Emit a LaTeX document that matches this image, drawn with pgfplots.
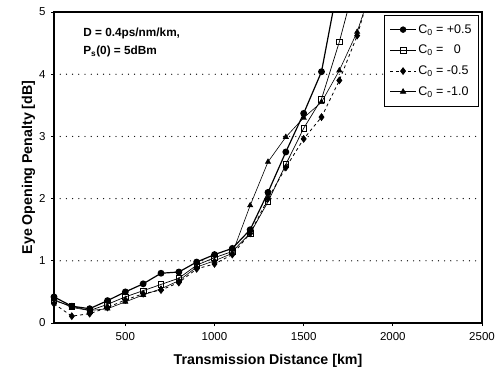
\documentclass[border=0pt]{standalone}
\usepackage{pgfplots}
\pgfplotsset{compat=1.18}
\usepackage{fontspec}
\setmainfont{Liberation Sans}
\begin{document}
\begin{tikzpicture}[x=1pt,y=1pt]
\useasboundingbox (0,0) rectangle (498,376);
\begin{axis}[
  at={(54pt,53pt)}, anchor=south west,
  scale only axis, width=428pt, height=311pt,
  xmin=100, xmax=2500, ymin=0, ymax=5,
  xtick={500,1000,1500,2000,2500},
  ytick={0,1,2,3,4,5},
  tick align=outside, tick pos=left,
  major tick length=3pt,
  axis line style={line width=1.6pt},
  tick style={black, line width=0.8pt},
  ymajorgrids, 
  grid style={black, line width=1.3pt, line cap=round, dash pattern=on 0pt off 6.2pt},
  ticklabel style={font=\fontsize{11.5}{12}\selectfont},
  /pgf/number format/assume math mode=true,
  /pgf/number format/1000 sep={},
  xticklabel style={yshift=-3pt},
  yticklabel style={xshift=-2pt},
  xlabel={\bfseries Transmission Distance [km]},
  ylabel={\bfseries Eye Opening Penalty [dB]},
  label style={font=\fontsize{14.2}{15}\selectfont},
  xlabel style={yshift=-7pt},
  ylabel style={yshift=-3pt},
  legend style={at={(0.993,0.99)}, anchor=north east, draw=black, line width=0.8pt,
    font=\fontsize{12.5}{14}\selectfont, row sep=6.5pt, inner xsep=5pt, inner ysep=7pt},
  legend cell align=left,
  legend image code/.code={\draw[mark repeat=2,mark phase=2,#1] plot coordinates {(0cm,0cm) (0.45cm,0cm) (0.9cm,0cm)};},
  legend image post style={line width=0.8pt},
  clip=true,
]
\addplot[black, line width=1.2pt, mark=*, mark size=2.8pt] coordinates {
(100,0.42) (200,0.27) (300,0.23) (400,0.36) (500,0.50) (600,0.63) (700,0.80) (800,0.82)
(900,0.98) (1000,1.10) (1100,1.20) (1200,1.50) (1300,2.10) (1400,2.75) (1500,3.37)
(1600,4.04) (1700,5.55)};
\addlegendentry{C\textsubscript{0} = +0.5}
\addplot[black, line width=0.7pt, mark=square, mark size=2.8pt, mark options={fill=white, line width=0.7pt}] coordinates {
(100,0.36) (200,0.27) (300,0.20) (400,0.30) (500,0.42) (600,0.52) (700,0.62) (800,0.72)
(900,0.93) (1000,1.05) (1100,1.15) (1200,1.44) (1300,1.95) (1400,2.55) (1500,3.13)
(1600,3.60) (1700,4.52) (1800,5.60)};
\addlegendentry{C\textsubscript{0} = \ \ 0}
\addplot[black, line width=0.8pt, dashed, mark=diamond*, mark size=3.3pt, mark options={solid}] coordinates {
(100,0.31) (200,0.11) (300,0.15) (400,0.25) (500,0.37) (600,0.47) (700,0.53) (800,0.65)
(900,0.87) (1000,0.95) (1100,1.10) (1200,1.44) (1300,2.00) (1400,2.50) (1500,2.96)
(1600,3.31) (1700,3.90) (1800,4.62) (1900,5.60)};
\addlegendentry{C\textsubscript{0} = -0.5}
\addplot[black, line width=0.6pt, mark=triangle*, mark size=3pt, mark options={solid}] coordinates {
(100,0.38) (200,0.25) (300,0.20) (400,0.23) (500,0.34) (600,0.45) (700,0.55) (800,0.68)
(900,0.90) (1000,1.00) (1100,1.12) (1200,1.89) (1300,2.59) (1400,2.99) (1500,3.30)
(1600,3.55) (1700,4.06) (1800,4.68) (1900,5.55)};
\addlegendentry{C\textsubscript{0} = -1.0}
\node[anchor=west, align=left, font=\bfseries\fontsize{11.8}{18}\selectfont, inner sep=0pt]
  at (rel axis cs:0.068,0.902) {D = 0.4ps/nm/km,\\P\textsubscript{s}(0) = 5dBm};
\end{axis}
\end{tikzpicture}
\end{document}
